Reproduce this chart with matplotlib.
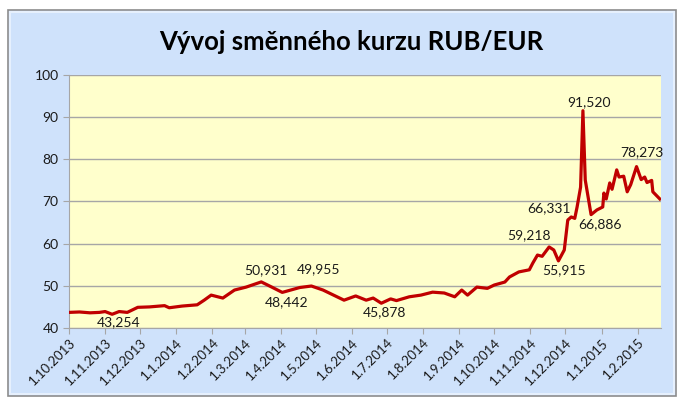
import matplotlib
matplotlib.use('Agg')
import matplotlib.pyplot as plt
from matplotlib.patches import Rectangle
import numpy as np

plt.rcParams['font.family'] = ['Lato', 'DejaVu Sans']

# kurz RUB/EUR
dates = ['2013-10-01', '2013-10-10', '2013-10-19', '2013-10-27', '2013-11-01',
         '2013-11-07', '2013-11-13', '2013-11-20', '2013-11-29', '2013-12-09',
         '2013-12-22', '2013-12-26', '2014-01-06', '2014-01-19', '2014-01-25',
         '2014-01-31', '2014-02-10', '2014-02-20', '2014-03-02', '2014-03-15',
         '2014-03-24', '2014-04-02', '2014-04-17', '2014-04-27', '2014-05-07',
         '2014-05-19', '2014-05-25', '2014-06-04', '2014-06-13', '2014-06-19',
         '2014-06-26', '2014-07-04', '2014-07-09', '2014-07-20', '2014-07-30',
         '2014-08-09', '2014-08-19', '2014-08-28', '2014-09-03', '2014-09-08',
         '2014-09-16', '2014-09-25', '2014-10-01', '2014-10-10', '2014-10-14',
         '2014-10-22', '2014-10-31', '2014-11-03', '2014-11-07', '2014-11-11',
         '2014-11-17', '2014-11-21', '2014-11-25', '2014-11-30', '2014-12-03',
         '2014-12-06', '2014-12-09', '2014-12-11', '2014-12-14', '2014-12-16',
         '2014-12-18', '2014-12-23', '2014-12-28', '2015-01-02', '2015-01-03',
         '2015-01-05', '2015-01-08', '2015-01-10', '2015-01-14', '2015-01-16',
         '2015-01-20', '2015-01-23', '2015-01-26', '2015-01-31', '2015-02-04',
         '2015-02-07', '2015-02-09', '2015-02-13', '2015-02-14', '2015-02-20']
rate = [43.7, 43.8, 43.6, 43.7, 43.9,
        43.254, 43.9, 43.7, 44.9, 45.0,
        45.3, 44.8, 45.2, 45.5, 46.6,
        47.8, 47.1, 49.0, 49.7, 50.931,
        49.7, 48.442, 49.6, 49.955, 49.0,
        47.4, 46.6, 47.6, 46.6, 47.1,
        45.878, 46.9, 46.5, 47.4, 47.8,
        48.5, 48.3, 47.4, 49.0, 47.8,
        49.7, 49.4, 50.2, 50.9, 52.1,
        53.3, 53.8, 55.4, 57.3, 57.0,
        59.218, 58.5, 55.915, 58.5, 65.6,
        66.331, 66.0, 68.7, 73.4, 91.52,
        75.1, 66.886, 68.0, 68.7, 72.0,
        70.6, 74.4, 72.9, 77.5, 75.8,
        76.0, 72.3, 74.0, 78.273, 75.2,
        75.8, 74.5, 75.0, 72.3, 70.6]

# popisky extrémů: datum, hodnota, text
lab_dates = ['2013-11-07', '2014-03-15', '2014-04-02', '2014-04-27', '2014-06-26',
             '2014-11-17', '2014-11-25', '2014-12-06', '2014-12-16', '2014-12-23',
             '2015-01-31']
lab_vals = [43.254, 50.931, 48.442, 49.955, 45.878,
            59.218, 55.915, 66.331, 91.52, 66.886, 78.273]
lab_txt = ['43,254', '50,931', '48,442', '49,955', '45,878',
           '59,218', '55,915', '66,331', '91,520', '66,886', '78,273']
# posun popisku v pixelech (dx, dy nahoru)
lab_off = [(6, -8), (5, 12), (4, -10), (7, 17), (3, -9),
           (-20, 12), (6, -9), (-22, 9), (6, 9), (9, -10), (5, 14)]

tick_dates = ['2013-10-01', '2013-11-01', '2013-12-01', '2014-01-01', '2014-02-01',
              '2014-03-01', '2014-04-01', '2014-05-01', '2014-06-01', '2014-07-01',
              '2014-08-01', '2014-09-01', '2014-10-01', '2014-11-01', '2014-12-01',
              '2015-01-01', '2015-02-01']
tick_labels = ['1.10.2013', '1.11.2013', '1.12.2013', '1.1.2014', '1.2.2014',
               '1.3.2014', '1.4.2014', '1.5.2014', '1.6.2014', '1.7.2014',
               '1.8.2014', '1.9.2014', '1.10.2014', '1.11.2014', '1.12.2014',
               '1.1.2015', '1.2.2015']

d = np.array(dates, dtype='datetime64[D]').astype('O')
ld = np.array(lab_dates, dtype='datetime64[D]').astype('O')
td = np.array(tick_dates, dtype='datetime64[D]').astype('O')

fig = plt.figure(figsize=(6.82, 4.01), dpi=100)
fig.patch.set_facecolor('white')
# modrý rámeček grafu
fig.patches.append(Rectangle((8/682, 5/401), 668/682, 386/401, transform=fig.transFigure,
                             facecolor='#cfe2fb', edgecolor='#8c8c8c', lw=1.2, zorder=-2))
fig.patches.append(Rectangle((10/682, 7/401), 664/682, 382/401, transform=fig.transFigure,
                             facecolor='none', edgecolor='#e6f0fd', lw=1.5, zorder=-1))

ax = fig.add_axes([69/682, 73/401, 592/682, 253/401])
ax.set_facecolor('#ffffcc')
ax.plot(d, rate, color='#c00000', lw=2.3, solid_joinstyle='round', zorder=3)

for x, y, t, (dx, dy) in zip(ld, lab_vals, lab_txt, lab_off):
    ax.annotate(t, (x, y), xytext=(dx * 0.72, dy * 0.72), textcoords='offset points',
                ha='center', va='center', fontsize=10, color='#1a1a1a', zorder=4)

ax.set_ylim(40, 100)
ax.set_yticks(range(40, 101, 10))
ax.set_xlim(td[0], np.datetime64('2015-02-21').astype('O'))
ax.set_xticks(td)
ax.set_xticklabels(tick_labels, rotation=45, ha='right', rotation_mode='anchor')
ax.grid(axis='y', color='#a6a6a6', lw=1)
ax.set_axisbelow(True)
for s in ['top', 'right']:
    ax.spines[s].set_visible(False)
for s in ['left', 'bottom']:
    ax.spines[s].set_color('#a6a6a6')
ax.tick_params(axis='both', colors='#a6a6a6', labelcolor='#1a1a1a', length=4, labelsize=10)
ax.tick_params(axis='x', labelsize=9.5, pad=2)

fig.text(351/682, 1 - 42/401, 'Vývoj směnného kurzu RUB/EUR', ha='center', va='center',
         fontsize=18.5, fontweight='bold', color='black')

fig.savefig('out.png', dpi=100)
